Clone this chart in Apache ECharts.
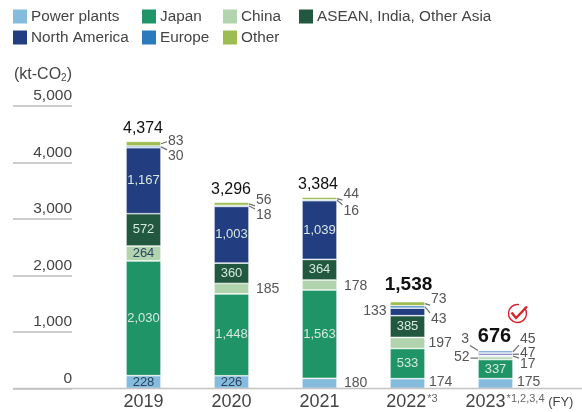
<!DOCTYPE html>
<html><head><meta charset="utf-8">
<style>html,body{margin:0;padding:0;background:#fff}#c{width:582px;height:412px}</style>
<script src="https://cdn.jsdelivr.net/npm/echarts@6/dist/echarts.min.js"></script></head>
<body><div id="c"></div>
<script>
const categories=['2019','2020','2021','2022','2023'];
const powerPlants=[228,226,180,174,175];
const japan=[2030,1448,1563,533,337];
const china=[264,185,178,197,52];
const asean=[572,360,364,385,17];
const northAmerica=[1167,1003,1039,133,47];
const europe=[30,18,16,43,45];
const other=[83,56,44,73,3];
const seriesData=[powerPlants,japan,china,asean,northAmerica,europe,other];
const names=['Power plants','Japan','China','ASEAN, India, Other Asia','North America','Europe','Other'];
const colors=['#85bbdc','#1f9467','#b1d4ae','#21583f','#223d80','#2b7abb','#9dbd52'];
// the thin 2023 bands read paler in the picture
const thinTint={3:'#8fa99c',4:'#8a90c2',5:'#78a4d6',6:'#cfe0c4'};
const yTicks=[0,1000,2000,3000,4000,5000];

const FONT='"Liberation Sans", Arimo, sans-serif';
const fmt=v=>v.toLocaleString('en-US');
const below=(k,i)=>seriesData.slice(0,i).reduce((a,s)=>a+s[k],0);
const cum=categories.map((_,k)=>below(k,seriesData.length));
const BAR=35;

const darkInside={0:[0,1],2:[0]};
const lightInside={1:[0,1,2,3,4],3:[0,1,2,3],4:[0,1,2]};

const series=seriesData.map((d,i)=>({
  type:'bar',name:names[i],stack:'t',barWidth:BAR,data:d,z:3,
  itemStyle:{color:p=>(p.dataIndex===4&&thinTint[i])||colors[i],borderColor:'#fff',borderWidth:0.6},
  label:{show:!!(darkInside[i]||lightInside[i]),position:'inside',fontFamily:FONT,fontSize:13,
    color:darkInside[i]?'#2b4560':'#d6e8e0',
    formatter:p=>((darkInside[i]||lightInside[i]).includes(p.dataIndex)?fmt(p.value):'')}
}));

const sideLabels=[
 {k:0,i:6,dx:24.5,dy:-3,l:1},{k:0,i:5,dx:24.5,dy:9,l:1},
 {k:1,i:2,dx:24.5,dy:0},{k:1,i:6,dx:24.5,dy:-4,l:1},{k:1,i:5,dx:24.5,dy:9,l:1},
 {k:2,i:2,dx:24.5,dy:1},{k:2,i:0,dx:24.5,dy:-0.5},{k:2,i:6,dx:24,dy:-4.5,l:1},{k:2,i:5,dx:24,dy:10.5,l:1},
 {k:3,i:0,dx:21.5,dy:-1},{k:3,i:2,dx:21,dy:0},{k:3,i:6,dx:23.5,dy:-4.5,l:1},{k:3,i:5,dx:23.5,dy:12,l:1},
 {k:3,i:4,dx:-21,dy:-1},
 {k:4,i:0,dx:21.5,dy:-1.5},{k:4,i:5,dx:24.5,dy:-12.7,l:1},{k:4,i:4,dx:24.5,dy:-1.3,l:1},{k:4,i:3,dx:24.5,dy:8,l:1},
 {k:4,i:2,dx:-26,dy:-1,l:1},{k:4,i:6,dx:-26.5,dy:-11,l:1}
];
series.push({type:'custom',name:'_side',coordinateSystem:'cartesian2d',silent:true,z:5,clip:false,
  data:sideLabels.map(s=>[s.k,below(s.k,s.i)+seriesData[s.i][s.k]/2]),
  renderItem:(p,api)=>{
    const s=sideLabels[p.dataIndex];
    const c=api.coord([api.value(0),api.value(1)]);
    const x=c[0]+s.dx,y=c[1]+s.dy,left=s.dx<0;
    const kids=[{type:'text',style:{text:fmt(seriesData[s.i][s.k]),x,y,fontSize:14,fontFamily:FONT,fill:'#555',
      textAlign:left?'right':'left',textVerticalAlign:'middle'}}];
    if(s.l){
      const sgn=left?-1:1;
      kids.push({type:'line',shape:{x1:c[0]+sgn*BAR/2,y1:c[1],x2:x-sgn*1,y2:y+(s.dy<-3.5?6:s.dy>3.5?-6:1)},
        style:{stroke:'#6f6f6f',lineWidth:1.2}});
    }
    return {type:'group',children:kids};
  }});

const totalStyle=[
 {dx:-0.5,dy:-12.5,size:16,weight:'normal'},{dx:-0.5,dy:-13,size:16,weight:'normal'},{dx:-1.5,dy:-13,size:16,weight:'normal'},
 {dx:1,dy:-16.5,size:19,weight:'bold'},{dx:-1,dy:-14,size:20,weight:'bold'}
];
series.push({type:'custom',name:'_tot',coordinateSystem:'cartesian2d',silent:true,z:6,clip:false,
  data:categories.map((_,k)=>[k,cum[k]]),
  renderItem:(p,api)=>{
    const c=api.coord([api.value(0),api.value(1)]),t=totalStyle[p.dataIndex];
    return {type:'text',style:{text:fmt(cum[p.dataIndex]),x:c[0]+t.dx,y:c[1]+t.dy,fontSize:t.size,fontWeight:t.weight,
      fontFamily:FONT,fill:'#111',textAlign:'center',textVerticalAlign:'middle'}};
  }});

series.push({type:'custom',name:'_base',coordinateSystem:'cartesian2d',silent:true,z:4,clip:false,
  data:[[0,0]],
  renderItem:(p,api)=>{
    const y=api.coord([0,0])[1];
    return {type:'line',shape:{x1:13,y1:y,x2:582,y2:y},style:{stroke:'#c4c4c4',lineWidth:1.5}};
  }});

const xSuffix={'2022':'{sup|*3}','2023':'{sup|*1,2,3,4}{fy| (FY)}'};
const xPad={'2022':'{p1| }','2023':'{p2| }'};
const legendCols=[[0,4,13],[1,5,142],[2,6,223],[3,null,299]];

const chart=echarts.init(document.getElementById('c'),null,{renderer:'canvas'});
chart.setOption({
  animation:false,
  textStyle:{fontFamily:FONT},
  grid:{left:99.5,width:440,top:106,height:282.5},
  legend:legendCols.map(([a,b,left])=>({
    data:(b===null?[names[a]]:[names[a],names[b]]),orient:'vertical',left,top:9,padding:0,
    itemWidth:14,itemHeight:14,itemGap:6,icon:'rect',selectedMode:false,
    itemStyle:{borderWidth:0,color:colors[a]},
    textStyle:{fontFamily:FONT,fontSize:15.3,color:'#444',padding:[0,0,0,-1]}
  })).map((l,j)=>{
    const [a,b]=legendCols[j];
    l.data=(b===null?[a]:[a,b]).map(n=>({name:names[n],itemStyle:{color:colors[n],borderWidth:0}}));
    return l;
  }),
  xAxis:{type:'category',data:categories,axisLine:{show:false},axisTick:{show:false},
    axisLabel:{interval:0,margin:5,fontFamily:FONT,fontSize:18,color:'#444',hideOverlap:false,
      formatter:v=>(xPad[v]||'')+'{y|'+v+'}'+(xSuffix[v]||''),
      rich:{y:{fontFamily:FONT,fontSize:18,color:'#444'},
        sup:{fontFamily:FONT,fontSize:11,color:'#666',verticalAlign:'top',padding:[0,0,4,1]},
        fy:{fontFamily:FONT,fontSize:13,color:'#444'},
        p1:{width:9,fontSize:8},p2:{width:48,fontSize:8}}}},
  yAxis:{type:'value',min:0,max:5000,interval:1000,offset:27.5,
    name:'(kt-CO{s|2})',nameLocation:'end',nameGap:31,
    nameTextStyle:{fontFamily:FONT,fontSize:16,color:'#444',align:'right',verticalAlign:'middle',
      rich:{s:{fontFamily:FONT,fontSize:10,color:'#444',verticalAlign:'bottom',padding:[3,0,0,0]}}},
    axisLine:{show:false},
    axisTick:{show:true,length:59,lineStyle:{color:'#bdbdbd',width:1.5}},
    axisLabel:{margin:0,fontFamily:FONT,fontSize:15.5,color:'#444',verticalAlign:'bottom',padding:[0,0,2,0],
      formatter:v=>yTicks.includes(v)?fmt(v):''},
    splitLine:{show:false}},
  series,
  graphic:[
    {type:'arc',shape:{cx:517.5,cy:313.5,r:9,startAngle:-0.7,endAngle:4.88,clockwise:true},
      style:{stroke:'#d8232a',fill:null,lineWidth:1.4}},
    {type:'polyline',shape:{points:[[511.5,312.5],[516,318],[527,306.5]]},style:{stroke:'#d8232a',fill:null,lineWidth:2.4}}
  ]
});
</script></body></html>
